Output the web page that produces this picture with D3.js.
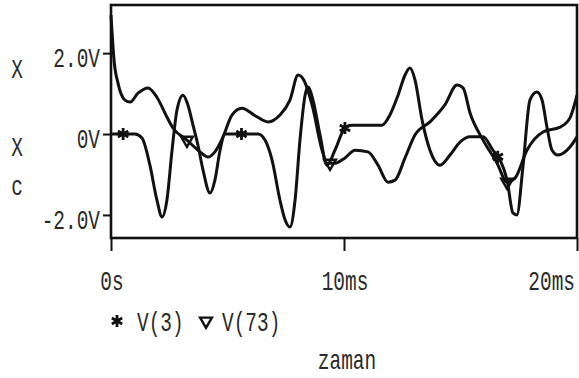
<!DOCTYPE html>
<html>
<head>
<meta charset="utf-8">
<script src="https://cdn.jsdelivr.net/npm/d3@7"></script>
<style>
body { margin:0; background:white; }
svg { display:block; }
.lbl { font-family:"Liberation Mono","Courier New",monospace; font-size:27px; fill:#2a2a2a; }
</style>
</head>
<body>
<svg></svg>
<script>
// time in ms
var t3 = [0,0.52,1.03,1.33,1.67,1.97,2.19,2.40,2.62,2.83,3.09,3.30,3.52,3.73,3.95,4.25,4.46,4.68,4.89,6.31,6.61,6.91,7.25,7.47,7.68,7.90,8.11,8.33,8.45,8.67,8.97,9.27,9.61,10.04,10.34,11.63,11.97,12.32,12.62,12.83,13.05,13.35,13.69,14.12,14.55,14.98,15.41,15.97,16.39,16.70,17.00,17.25,17.42,17.68,17.98,18.28,18.50,18.71,18.93,19.18,19.70,20.00];
var v3 = [0,0,0,-0.10,-0.77,-1.63,-2.05,-1.63,-0.40,0.59,0.96,0.72,0.22,-0.27,-0.89,-1.46,-1.14,-0.40,0,0,-0.15,-0.64,-1.63,-2.12,-2.30,-1.63,-0.15,0.96,1.16,0.84,-0.02,-0.77,-0.40,0.15,0.22,0.22,0.47,0.96,1.46,1.63,1.33,0.35,-0.40,-0.77,-0.52,-0.20,-0.07,-0.07,-0.40,-0.64,-1.14,-1.95,-2.00,-0.81,0.84,1.04,0.84,0.17,-0.40,-0.52,-0.32,-0.07];

var t73 = [0,0.04,0.13,0.30,0.60,0.82,1.16,1.59,1.97,2.40,2.66,3.26,3.82,4.16,4.46,4.81,5.19,5.62,6.22,6.74,7.25,7.68,8.03,8.28,8.63,9.06,9.27,9.61,10.04,10.47,11.03,11.46,11.89,12.19,12.62,13.05,13.69,14.33,14.85,15.11,15.41,15.97,16.57,17.00,17.34,17.85,18.54,19.27,19.70,20.00];
var v73 = [2.94,2.57,1.83,1.26,0.84,0.79,1.01,1.14,0.91,0.42,0.15,-0.15,-0.44,-0.57,-0.44,-0.07,0.47,0.64,0.44,0.30,0.47,0.84,1.46,1.33,0.72,-0.40,-0.72,-0.72,-0.59,-0.40,-0.44,-0.77,-1.19,-1.14,-0.59,-0.02,0.30,0.72,1.21,1.14,0.52,-0.15,-0.72,-1.19,-1.09,-0.40,0.05,0.17,0.40,0.96];

// where the trace symbols sit (ms)
var marks3 = [0.52,5.6,10.04,16.6];
var marks73 = [3.26,9.4,17.0];

var yTicks = [-2,0,2];
var yTickLabels = ["-2.0V","0V","2.0V"];
var xTicks = [0,10,20];
var xTickLabels = ["0s","10ms","20ms"];
var sideLabels = ["X","X","c"];
var seriesNames = ["V(3)","V(73)"];
var xTitle = "zaman";

var screen = {width:579, height:378};
var margins = {top:5, bottom:140, left:111, right:2};
var graph = {
    width:screen.width-margins.left-margins.right,
    height:screen.height-margins.top-margins.bottom
};
var squeeze = 0.72;

var svg = d3.select("svg")
    .attr("width",screen.width)
    .attr("height",screen.height);

var xScale = d3.scaleLinear()
    .domain([0,20])
    .range([margins.left,margins.left+graph.width]);

var yScale = d3.scaleLinear()
    .domain([-2.57,3.19])
    .range([margins.top+graph.height,margins.top]);

var addText = function(str, x, y, anchor)
{
    return svg.append("g")
        .attr("transform","translate("+x+","+y+") scale("+squeeze+",1)")
        .append("text")
        .classed("lbl",true)
        .attr("text-anchor",anchor)
        .text(str);
}

var valueAt = function(ts, vs, t)
{
    var i = d3.bisectLeft(ts,t);
    if(i<=0) return vs[0];
    if(i>=ts.length) return vs[vs.length-1];
    var f = (t-ts[i-1])/(ts[i]-ts[i-1]);
    return vs[i-1]+f*(vs[i]-vs[i-1]);
}

// frame
svg.append("rect")
    .attr("x",margins.left)
    .attr("y",margins.top)
    .attr("width",graph.width)
    .attr("height",graph.height)
    .attr("fill","none")
    .attr("stroke","#111")
    .attr("stroke-width",2.6);

// axes
var yAxis = d3.axisLeft(yScale).tickValues(yTicks).tickSize(8).tickFormat("");
svg.append("g")
    .attr("transform","translate("+margins.left+",0)")
    .call(yAxis)
    .call(function(g){ g.select(".domain").remove(); })
    .selectAll("line").attr("stroke","#111").attr("stroke-width",2);

var xAxis = d3.axisBottom(xScale).tickValues(xTicks).tickSize(13).tickFormat("");
svg.append("g")
    .attr("transform","translate(0,"+(margins.top+graph.height)+")")
    .call(xAxis)
    .call(function(g){ g.select(".domain").remove(); })
    .selectAll("line").attr("stroke","#111").attr("stroke-width",2);

yTicks.forEach(function(v,i)
{
    addText(yTickLabels[i], 100, yScale(v)+14, "end");
});

xTicks.forEach(function(v,i)
{
    var anchor = i==xTicks.length-1 ? "end" : "middle";
    var x = i==xTicks.length-1 ? xScale(v)-2 : xScale(v)+1;
    addText(xTickLabels[i], x, 290, anchor);
});

addText(sideLabels[0], 17, 78, "middle");
addText(sideLabels[1], 17, 156, "middle");
addText(sideLabels[2], 17, 195, "middle");

// traces
var lineGenerator = d3.line()
    .x(function(d){ return xScale(d[0]); })
    .y(function(d){ return yScale(d[1]); })
    .curve(d3.curveMonotoneX);

var series = [
    {t:t3, v:v3, marks:marks3, sym:"star"},
    {t:t73, v:v73, marks:marks73, sym:"tri"}
];

var plot = svg.append("g");

series.forEach(function(s)
{
    plot.append("path")
        .datum(s.t.map(function(t,i){ return [t,s.v[i]]; }))
        .attr("fill","none")
        .attr("stroke","#111")
        .attr("stroke-width",3)
        .attr("stroke-linejoin","round")
        .attr("d",lineGenerator);
});

var drawSymbol = function(kind, x, y)
{
    if(kind=="star")
    {
        svg.append("path")
            .attr("d",d3.symbol(d3.symbolAsterisk,100)())
            .attr("transform","translate("+x+","+y+")")
            .attr("fill","none")
            .attr("stroke","#111")
            .attr("stroke-width",2.8);
    }
    else
    {
        svg.append("path")
            .attr("d",d3.symbol(d3.symbolTriangle,60)())
            .attr("transform","translate("+x+","+y+") rotate(180)")
            .attr("fill","none")
            .attr("stroke","#111")
            .attr("stroke-width",2.4);
    }
}

series.forEach(function(s)
{
    s.marks.forEach(function(t)
    {
        drawSymbol(s.sym, xScale(t), yScale(valueAt(s.t,s.v,t)));
    });
});

// legend
drawSymbol("star", 117, 321);
addText(seriesNames[0], 137, 331, "start");
drawSymbol("tri", 206, 321);
addText(seriesNames[1], 222, 331, "start");

addText(xTitle, 347, 369, "middle");
</script>
</body>
</html>
